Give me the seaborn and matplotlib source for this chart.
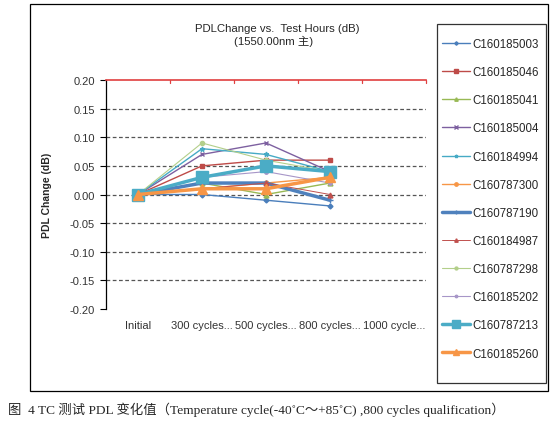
import matplotlib
matplotlib.use("Agg")
import matplotlib.pyplot as plt
import seaborn as sns
import pandas as pd
import numpy as np
from matplotlib.patches import Rectangle
from matplotlib.lines import Line2D

sns.set_theme(style="white")
plt.rcParams['font.family'] = ['Liberation Sans', 'Noto Sans CJK SC', 'DejaVu Sans']

categories = ["Initial", "300 cycles...", "500 cycles...", "800 cycles...", "1000 cycle..."]
y_ticks = [-0.20, -0.15, -0.10, -0.05, 0.00, 0.05, 0.10, 0.15, 0.20]
y_tick_labels = ["-0.20", "-0.15", "-0.10", "-0.05", "0.00", "0.05", "0.10", "0.15", "0.20"]
series_names = ["C160185003", "C160185046", "C160185041", "C160185004", "C160184994",
                "C160787300", "C160787190", "C160184987", "C160787298", "C160185202",
                "C160787213", "C160185260"]
v_185003 = [0.00, 0.00, -0.01, -0.02]
v_185046 = [0.00, 0.05, 0.06, 0.06]
v_185041 = [0.00, 0.02, 0.00, 0.02]
v_185004 = [0.00, 0.07, 0.09, 0.04]
v_184994 = [0.00, 0.08, 0.07, 0.04]
v_787300 = [0.00, 0.01, 0.02, 0.03]
v_787190 = [0.00, 0.02, 0.02, -0.01]
v_184987 = [0.00, 0.01, 0.02, 0.00]
v_787298 = [0.00, 0.09, 0.06, 0.04]
v_185202 = [0.00, 0.03, 0.04, 0.02]
v_787213 = [0.00, 0.03, 0.05, 0.04]
v_185260 = [0.00, 0.01, 0.01, 0.03]
values = [v_185003, v_185046, v_185041, v_185004, v_184994, v_787300,
          v_787190, v_184987, v_787298, v_185202, v_787213, v_185260]

colors = ["#4a7ebb", "#be4b48", "#98b954", "#7d60a0", "#46aac5", "#f79646",
          "#4f81bd", "#c0504d", "#b3cf8a", "#a796c8", "#4bacc6", "#f79646"]
markers = ["D", "s", "^", "x", "*", "o", "+", "^", "o", "o", "s", "^"]
lws = [1.0, 1.0, 1.0, 1.0, 1.0, 1.0, 2.5, 0.7, 0.8, 0.8, 2.5, 2.5]
msz = [2.5, 3.5, 3.5, 3.5, 3.5, 3.5, 5, 3.5, 3, 2.5, 8, 7]

rows = []
for name, vals in zip(series_names, values):
    for i, v in enumerate(vals):
        rows.append({"series": name, "x": i, "y": v})
df = pd.DataFrame(rows)

fig = plt.figure(figsize=(5.52, 4.27), dpi=100)
ax = fig.add_axes([106/552, 1-310/427, 320/552, 229/427])

for name, c, m, lw, ms in zip(series_names, colors, markers, lws, msz):
    sub = df[df.series == name]
    sns.lineplot(data=sub, x="x", y="y", ax=ax, color=c, marker=m, linewidth=lw,
                 markersize=ms, markeredgecolor=c, markeredgewidth=1.0, label=name, legend=False)

ax.set_xlim(-0.5, 4.5)
ax.set_ylim(-0.20, 0.20)
ax.set_xticks(range(5))
ax.set_xticklabels(categories, fontsize=8, color="#333333")
ax.set_yticks(y_ticks)
ax.set_yticklabels(y_tick_labels, fontsize=8, color="#333333")
ax.tick_params(axis='x', length=0, pad=8)
ax.tick_params(axis='y', length=4, direction='out', color='black', width=0.8, left=True, pad=4)
for t in y_ticks[1:-1]:
    ax.axhline(t, color="#555555", lw=0.9, ls=(0, (3, 2)), zorder=0)
ax.spines['right'].set_visible(False)
ax.spines['bottom'].set_visible(False)
ax.spines['left'].set_color('black')
ax.spines['left'].set_linewidth(0.9)
ax.spines['top'].set_color('#e04040')
ax.spines['top'].set_linewidth(1.2)
for b in np.arange(0.5, 4.6, 1.0):
    ax.plot([b, b], [0.20, 0.194], color='#e04040', lw=0.9, clip_on=False)
ax.set_xlabel("")
ax.set_ylabel("PDL Change (dB)", fontsize=7.5, fontweight='bold', labelpad=13)

fig.text(277/552, 1-29/427, "PDLChange vs.  Test Hours (dB)", ha='center', va='center', fontsize=8.2)
fig.text(274/552, 1-41.5/427, "(1550.00nm 主)", ha='center', va='center', fontsize=8.2)

handles = [Line2D([], [], color=c, marker=m, lw=lw, markersize=ms*0.7, markeredgecolor=c)
           for c, m, lw, ms in zip(colors, markers, lws, msz)]
leg = fig.legend(handles, series_names, loc='upper left',
                 bbox_to_anchor=(442/552, 1-39/427), bbox_transform=fig.transFigure,
                 fontsize=8.3, frameon=False,
                 labelspacing=1.4, handlelength=2.4, handletextpad=0.26, borderpad=0,
                 borderaxespad=0)

fig.add_artist(Rectangle((437/552, 1-384/427), 109/552, 359/427, transform=fig.transFigure,
                         fill=False, edgecolor='#333333', lw=0.9))

fig.add_artist(Rectangle((30/552, 1-392/427), 518/552, 387/427, transform=fig.transFigure,
                         fill=False, edgecolor='black', lw=0.9))

fig.text(8/552, 1-410/427,
         "图  4 TC 测试 PDL 变化值（Temperature cycle(-40˚C～+85˚C) ,800 cycles qualification）",
         ha='left', va='center', fontsize=9.6,
         family=['Liberation Serif', 'Noto Sans CJK SC', 'DejaVu Sans'])

fig.savefig("out.png", dpi=100)
